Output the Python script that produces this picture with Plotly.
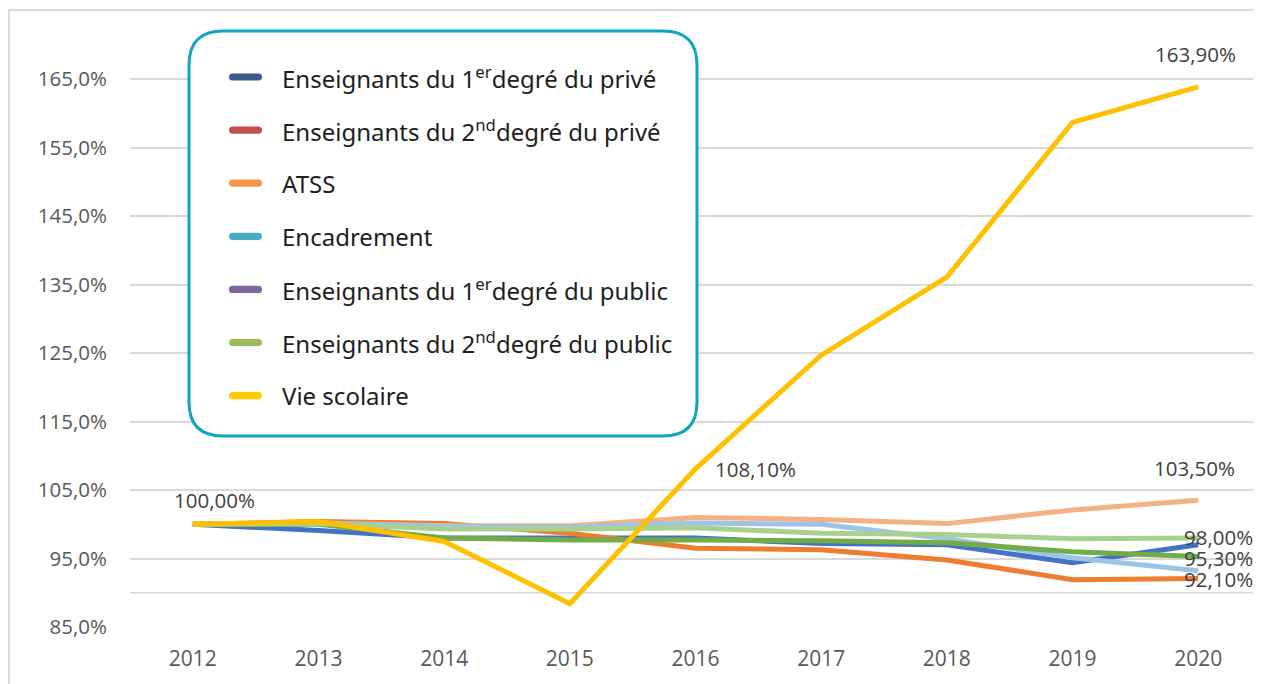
import plotly.graph_objects as go

years = ["2012", "2013", "2014", "2015", "2016", "2017", "2018", "2019", "2020"]

prive_1er = [100.0, 99.1, 98.0, 98.0, 98.0, 97.2, 97.0, 94.4, 97.0]
prive_2nd = [100.0, 100.4, 100.1, 98.7, 96.5, 96.3, 94.8, 91.9, 92.1]
atss = [100.0, 100.2, 99.8, 99.8, 101.0, 100.7, 100.1, 102.1, 103.5]
encadrement = [100.0, 100.2, 99.7, 99.6, 100.2, 100.0, 97.9, 95.1, 93.2]
public_1er = [100.0, 100.0, 98.0, 97.7, 97.7, 97.6, 97.3, 96.0, 95.3]
public_2nd = [100.0, 100.1, 99.3, 99.3, 99.5, 98.7, 98.5, 97.9, 98.0]
vie_scolaire = [100.0, 100.4, 97.5, 88.4, 108.1, 124.7, 136.1, 158.7, 163.9]

series_names = [
    "Enseignants du 1<sup>er</sup>degré du privé",
    "Enseignants du 2<sup>nd</sup>degré du privé",
    "ATSS",
    "Encadrement",
    "Enseignants du 1<sup>er</sup>degré du public",
    "Enseignants du 2<sup>nd</sup>degré du public",
    "Vie scolaire",
]
series_values = [prive_1er, prive_2nd, atss, encadrement, public_1er, public_2nd, vie_scolaire]
line_colors = ["#4472C4", "#ED7D31", "#F4B183", "#9DC3E6", "#70AD47", "#A9D18E", "#FFC000"]
legend_colors = ["#385D8A", "#C0504D", "#F79646", "#4BACC6", "#8064A2", "#9BBB59", "#FFCC00"]

ytick_vals = [85, 95, 105, 115, 125, 135, 145, 155, 165]
ytick_text = ["85,0%", "95,0%", "105,0%", "115,0%", "125,0%", "135,0%", "145,0%", "155,0%", "165,0%"]

# (series index, year index, xshift px, yshift px)
label_specs = [
    (6, 0, 22, 24),
    (6, 4, 60, 0),
    (6, 8, -3, 33),
    (2, 8, -4, 32),
    (5, 8, 20, 1),
    (4, 8, 20, -2),
    (1, 8, 20, -1),
]

OFF = 8  # page body margin
W, H = 1253, 676
L, R, T, B = 122, 0, 35, 57
PW, PH = W - L - R, H - T - B


def px(x):
    # page x -> paper fraction
    return (x - OFF - L) / PW


def py(y):
    # page y -> paper fraction
    return (H - B - (y - OFF)) / PH


fig = go.Figure()
for name, vals, col in zip(series_names, series_values, line_colors):
    fig.add_trace(go.Scatter(
        x=list(range(len(years))), y=vals, mode="lines", name=name,
        line=dict(color=col, width=5),
        showlegend=False, hoverinfo="y",
    ))

annotations = []
for si, yi, xs, ys in label_specs:
    v = series_values[si][yi]
    annotations.append(dict(
        x=yi, y=v, xref="x", yref="y",
        text=f"{v:.2f}".replace(".", ",") + "%",
        showarrow=False, xshift=xs, yshift=ys,
        font=dict(family="Open Sans, Liberation Sans", size=20.5, color="#404040"),
    ))

shapes = []
# outer chart border
shapes.append(dict(type="rect", xref="paper", yref="paper",
                   x0=px(9), x1=px(1275), y0=py(700), y1=py(10),
                   line=dict(color="#D9D9D9", width=2), fillcolor="rgba(0,0,0,0)",
                   layer="below"))
# axis line at 90%
shapes.append(dict(type="line", xref="paper", yref="y", x0=0, x1=1, y0=90, y1=90,
                   line=dict(color="#D9D9D9", width=1.5), layer="below"))

# legend box with rounded corners
bx0, bx1, by0, by1, rr = 189, 697, 31, 436, 34
path = (
    f"M {px(bx0 + rr)},{py(by0)} L {px(bx1 - rr)},{py(by0)} "
    f"Q {px(bx1)},{py(by0)} {px(bx1)},{py(by0 + rr)} "
    f"L {px(bx1)},{py(by1 - rr)} Q {px(bx1)},{py(by1)} {px(bx1 - rr)},{py(by1)} "
    f"L {px(bx0 + rr)},{py(by1)} Q {px(bx0)},{py(by1)} {px(bx0)},{py(by1 - rr)} "
    f"L {px(bx0)},{py(by0 + rr)} Q {px(bx0)},{py(by0)} {px(bx0 + rr)},{py(by0)} Z"
)
shapes.append(dict(type="path", xref="paper", yref="paper", path=path,
                   line=dict(color="#10A6BC", width=3), fillcolor="white", layer="above"))

row_y0 = 77
row_step = 53.1
for i, (name, col) in enumerate(zip(series_names, legend_colors)):
    yc = row_y0 + i * row_step
    lx0, lx1, hh = 229, 262, 3.6
    pill = (
        f"M {px(lx0 + hh)},{py(yc - hh)} L {px(lx1 - hh)},{py(yc - hh)} "
        f"Q {px(lx1)},{py(yc - hh)} {px(lx1)},{py(yc)} "
        f"Q {px(lx1)},{py(yc + hh)} {px(lx1 - hh)},{py(yc + hh)} "
        f"L {px(lx0 + hh)},{py(yc + hh)} Q {px(lx0)},{py(yc + hh)} {px(lx0)},{py(yc)} "
        f"Q {px(lx0)},{py(yc - hh)} {px(lx0 + hh)},{py(yc - hh)} Z"
    )
    shapes.append(dict(type="path", xref="paper", yref="paper", path=pill,
                       line=dict(width=0), fillcolor=col, layer="above"))
    annotations.append(dict(
        x=px(280), y=py(yc), xref="paper", yref="paper",
        text=name, showarrow=False, xanchor="left", yanchor="middle",
        font=dict(family="Noto Sans, Lato", size=24, color="#1E1E1E"),
    ))

fig.update_layout(
    width=W, height=H,
    margin=dict(l=L, r=R, t=T, b=B, pad=0),
    paper_bgcolor="white", plot_bgcolor="white",
    font=dict(family="Open Sans, Liberation Sans", size=20.5, color="#595959"),
    xaxis=dict(range=[-0.5, 8.5], showgrid=False, zeroline=False,
               tickvals=list(range(len(years))), ticktext=years,
               showline=False, ticks="", ticklabelstandoff=17,
               tickfont=dict(size=21, color="#595959")),
    yaxis=dict(range=[85, 170.3], tickvals=ytick_vals, ticktext=ytick_text,
               showgrid=True, gridcolor="#D9D9D9", gridwidth=1.5, zeroline=False,
               showline=False, ticks="", ticklabelstandoff=22,
               tickfont=dict(size=20.5, color="#595959")),
    shapes=shapes,
    annotations=annotations,
    showlegend=False,
)

fig.write_html("out.html")
